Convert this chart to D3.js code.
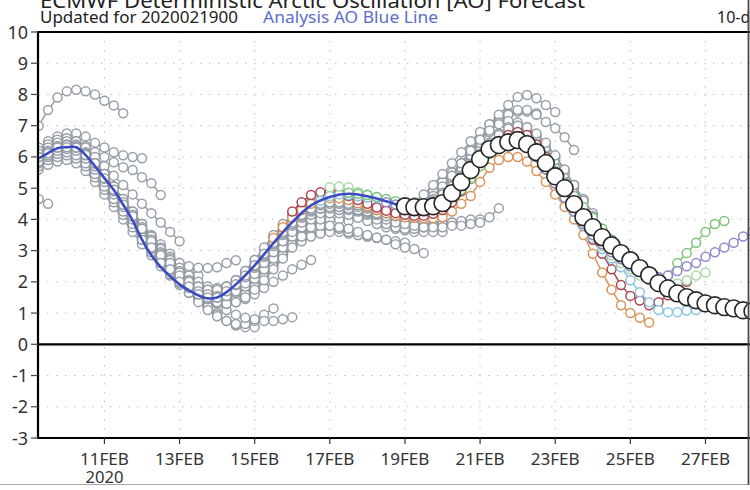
<!DOCTYPE html>
<html><head><meta charset="utf-8">
<script src="https://cdn.jsdelivr.net/npm/d3@7"></script>
<style>
body{margin:0;background:#fff;}
svg{display:block;font-family:"Noto Sans","Open Sans",sans-serif;}
</style>
</head><body>
<svg id="chart" width="750" height="490"></svg>
<script>
// ---------------- DATA ----------------
const titleText = "ECMWF Deterministic Arctic Oscillation [AO] Forecast";
const updatedText = "Updated for 2020021900";
const analysisText = "Analysis AO Blue Line";
const cornerText = "10-d";
const yTicks = [-3,-2,-1,0,1,2,3,4,5,6,7,8,9,10];
const xTickDays = [11,13,15,17,19,21,23,25,27];
const xTickLabels = ["11FEB","13FEB","15FEB","17FEB","19FEB","21FEB","23FEB","25FEB","27FEB"];
const yearLabel = "2020";
const STEP = 0.25; // 6-hourly values, in days

// analysis AO (blue line), day of Feb 2020 -> value
const analysisTimes = [9.25,9.5,9.75,10,10.25,10.5,10.75,11,11.25,11.5,11.75,12,12.25,12.5,12.75,13,13.25,13.5,13.75,14,14.25,14.5,15,15.5,16,16.5,17,17.5,18,18.5,19];
const analysisValues = [5.95,6.12,6.28,6.31,6.31,6.06,5.7,5.32,4.94,4.47,3.97,3.35,2.85,2.47,2.18,1.92,1.73,1.57,1.47,1.5,1.67,1.92,2.53,3.24,3.91,4.45,4.72,4.82,4.74,4.58,4.39];

// latest forecast (big white circles), starts 19 Feb 00Z
const latestStart = 19.0;
const latestValues = [4.42,4.39,4.39,4.42,4.52,4.84,5.19,5.58,5.93,6.25,6.38,6.47,6.54,6.41,6.15,5.8,5.38,5.0,4.49,4.07,3.75,3.43,3.17,2.92,2.69,2.44,2.21,1.96,1.79,1.63,1.51,1.41,1.31,1.25,1.19,1.15,1.09,1.06];

// older forecasts (grey), time of first visible value
const greyStarts = [9.25,9.25,9.25,9.25,9.25,9.25,9.25,9.25,9.25,9.25,9.25,9.25,9.25,9.25,9.25,9.25,9.25,9.5,10,10.5,11,11.5,12,12.5,13,13.5,14,14.5,15];
const greyValues = [
  [4.65,4.5],
  [7.0,7.5,7.9,8.1,8.15,8.1,8.0,7.8,7.65,7.4],
  [6.3,6.5,6.65,6.75,6.75,6.65,6.45,6.3,6.15,6.05,6.0,5.96],
  [6.1,6.3,6.45,6.55,6.5,6.35,6.15,6.0,5.83,5.67,5.58,5.35,5.16,4.78],
  [6.2,6.4,6.55,6.6,6.5,6.3,6.0,5.7,5.4,5.1,4.8,4.5,4.2,3.9,3.6,3.3],
  [5.8,6.0,6.15,6.2,6.15,5.95,5.65,5.3,4.95,4.55,4.2,3.85,3.5,3.2,2.9,2.6,2.4,2.2],
  [5.6,5.75,5.85,5.9,5.8,5.55,5.2,4.8,4.4,4.0,3.6,3.2,2.85,2.5,2.2,1.9,1.65,1.4,1.2,1.0],
  [6.0,6.2,6.35,6.4,6.3,6.05,5.7,5.3,4.9,4.5,4.1,3.7,3.35,3.05,2.8,2.6,2.5,2.45,2.44,2.47,2.6,2.69],
  [5.9,6.1,6.2,6.25,6.1,5.85,5.5,5.1,4.7,4.3,3.9,3.5,3.1,2.75,2.4,2.1,1.8,1.5,1.2,0.95,0.75,0.6,0.55,0.55],
  [5.7,5.9,6.0,6.05,5.95,5.7,5.35,4.95,4.55,4.15,3.75,3.35,2.95,2.6,2.25,1.95,1.65,1.35,1.1,0.9,0.75,0.65,0.65,0.75,0.95,1.15],
  [6.0,6.2,6.3,6.35,6.2,5.95,5.6,5.2,4.8,4.4,4.0,3.6,3.25,2.9,2.6,2.3,2.0,1.75,1.5,1.3,1.1,0.95,0.85,0.8,0.75,0.75,0.8,0.87],
  [5.8,6.0,6.1,6.15,6.05,5.8,5.45,5.05,4.65,4.25,3.85,3.45,3.05,2.7,2.35,2.05,1.8,1.6,1.45,1.35,1.3,1.35,1.45,1.6,1.8,2.0,2.2,2.4,2.55,2.7],
  [6.1,6.3,6.45,6.5,6.4,6.15,5.8,5.4,5.0,4.6,4.2,3.8,3.4,3.0,2.65,2.3,2.0,1.75,1.55,1.45,1.45,1.55,1.75,2.0,2.3,2.6,2.9,3.15,3.35,3.5,3.6,3.65],
  [5.95,6.15,6.3,6.35,6.3,6.05,5.7,5.3,4.9,4.5,4.1,3.7,3.3,2.95,2.6,2.3,2.05,1.85,1.7,1.65,1.7,1.85,2.05,2.3,2.6,2.9,3.2,3.45,3.7,3.85,3.95,4.0,4.0,3.95],
  [5.85,6.05,6.2,6.25,6.2,5.95,5.6,5.2,4.8,4.4,4.0,3.6,3.2,2.85,2.5,2.2,1.95,1.75,1.6,1.55,1.6,1.75,1.95,2.2,2.45,2.7,2.95,3.15,3.3,3.45,3.55,3.6,3.6,3.55,3.5,3.45],
  [6.0,6.2,6.35,6.4,6.35,6.1,5.75,5.35,4.95,4.55,4.15,3.75,3.35,3.0,2.65,2.35,2.1,1.9,1.75,1.7,1.75,1.9,2.1,2.35,2.65,2.95,3.25,3.55,3.8,4.0,4.15,4.25,4.3,4.3,4.25,4.2,4.15,4.1],
  [6.0,6.15,6.3,6.35,6.3,6.05,5.7,5.3,4.9,4.5,4.1,3.7,3.3,2.95,2.6,2.3,2.05,1.85,1.75,1.75,1.85,2.05,2.3,2.6,2.9,3.2,3.45,3.65,3.8,3.85,3.85,3.8,3.7,3.6,3.5,3.45,3.4,3.35,3.3,3.25],
  [6.12,6.3,6.38,6.3,6.1,5.8,5.45,5.05,4.65,4.25,3.85,3.45,3.1,2.75,2.45,2.2,2.0,1.85,1.8,1.85,2.0,2.2,2.45,2.75,3.05,3.3,3.5,3.65,3.75,3.8,3.8,3.75,3.7,3.6,3.5,3.42,3.35,3.2,3.1,3.05,2.92],
  [6.31,6.3,6.1,5.8,5.45,5.05,4.6,4.2,3.8,3.4,3.0,2.65,2.3,2.0,1.75,1.6,1.5,1.5,1.6,1.8,2.05,2.35,2.7,3.05,3.4,3.7,3.95,4.1,4.2,4.2,4.15,4.05,3.95,3.85,3.75,3.7,3.65,3.6,3.6,3.6,3.6],
  [6.06,5.8,5.45,5.05,4.65,4.25,3.85,3.45,3.05,2.7,2.35,2.05,1.8,1.6,1.45,1.4,1.45,1.6,1.85,2.15,2.5,2.85,3.2,3.5,3.8,4.05,4.25,4.35,4.4,4.35,4.3,4.2,4.1,4.0,3.95,3.9,3.85,3.85,3.85,3.9,3.9],
  [5.32,4.95,4.55,4.15,3.75,3.35,2.95,2.6,2.25,1.95,1.7,1.5,1.35,1.3,1.35,1.5,1.75,2.05,2.4,2.75,3.1,3.45,3.75,4.0,4.2,4.3,4.3,4.25,4.15,4.0,3.85,3.75,3.7,3.7,3.75,3.8,3.85,3.9,3.95,4.0,4.0],
  [4.47,4.1,3.7,3.3,2.9,2.55,2.25,2.0,1.8,1.65,1.55,1.55,1.65,1.85,2.1,2.4,2.75,3.1,3.45,3.75,4.0,4.2,4.35,4.4,4.4,4.35,4.25,4.15,4.0,3.9,3.85,3.8,3.75,3.75,3.75,3.8,3.8,3.85,3.9,4.07,4.36],
  [3.35,3.1,2.85,2.6,2.3,2.05,1.85,1.75,1.75,1.85,2.05,2.35,2.7,3.05,3.45,3.8,4.1,4.35,4.5,4.55,4.55,4.5,4.4,4.3,4.2,4.15,4.15,4.2,4.3,4.45,4.65,4.9,5.2,5.5,5.8,6.05,6.3,6.45,6.55,6.6,6.6],
  [2.6,2.4,2.2,2.0,1.85,1.75,1.75,1.85,2.05,2.35,2.7,3.1,3.5,3.85,4.15,4.4,4.55,4.6,4.6,4.55,4.45,4.35,4.25,4.2,4.2,4.25,4.35,4.55,4.8,5.1,5.45,5.8,6.15,6.5,6.8,7.05,7.25,7.4,7.45,7.45,7.4],
  [2.0,1.85,1.7,1.6,1.55,1.6,1.75,2.0,2.3,2.65,3.0,3.35,3.7,4.0,4.25,4.45,4.55,4.55,4.5,4.4,4.3,4.2,4.15,4.15,4.2,4.3,4.45,4.7,5.0,5.4,5.8,6.2,6.55,7.05,7.35,7.66,7.92,7.98,7.88,7.66,7.44],
  [1.6,1.5,1.5,1.55,1.7,1.95,2.25,2.6,2.95,3.3,3.6,3.9,4.15,4.35,4.45,4.5,4.45,4.35,4.25,4.15,4.1,4.1,4.15,4.25,4.4,4.6,4.9,5.25,5.65,6.05,6.45,6.8,7.1,7.35,7.5,7.5,7.35,7.12,6.92,6.63,6.22],
  [1.5,1.7,1.9,2.15,2.45,2.8,3.15,3.5,3.8,4.05,4.25,4.35,4.4,4.4,4.35,4.3,4.25,4.2,4.2,4.2,4.25,4.35,4.5,4.75,5.05,5.4,5.8,6.2,6.55,6.85,7.05,7.15,7.1,6.95,6.7,6.4,6.0,5.55,5.1,4.65,4.2],
  [1.92,2.2,2.5,2.85,3.2,3.55,3.85,4.1,4.3,4.45,4.5,4.5,4.45,4.4,4.35,4.3,4.3,4.3,4.35,4.4,4.5,4.65,4.85,5.1,5.4,5.75,6.1,6.45,6.75,6.95,7.0,6.9,6.65,6.3,5.9,5.45,5.0,4.55,4.1,3.7,3.35],
  [2.53,2.9,3.25,3.6,3.9,4.15,4.35,4.5,4.55,4.55,4.5,4.45,4.4,4.35,4.3,4.3,4.3,4.35,4.45,4.6,4.8,5.05,5.35,5.7,6.05,6.4,6.7,6.9,7.0,6.95,6.75,6.45,6.05,5.6,5.1,4.6,4.1,3.65,3.3,3.0,2.75]
];

// most recent forecasts (coloured)
const colourRunNames = ["15FEB12","16FEB00","16FEB18","17FEB00","17FEB12","18FEB12"];
const colourRunStarts = [15.5,16.0,16.75,17.0,17.5,18.5];
const colourRunValues = [
  [3.4,3.75,4.05,4.3,4.5,4.62,4.68,4.68,4.62,4.52,4.42,4.3,4.2,4.12,4.07,4.05,4.04,4.04,4.07,4.25,4.5,4.75,5.2,5.65,5.9,6.0,6.0,5.85,5.55,5.2,4.8,4.4,4.0,3.5,2.9,2.3,1.75,1.25,1.0,0.85,0.7],
  [4.25,4.55,4.78,4.87,4.9,4.85,4.75,4.62,4.5,4.38,4.28,4.2,4.15,4.12,4.12,4.18,4.3,4.55,4.9,5.3,5.75,6.15,6.45,6.7,6.8,6.7,6.4,6.0,5.5,4.95,4.4,3.85,3.35,2.9,2.4,1.9,1.55,1.4,1.25,1.35,1.57,1.8,2.0],
  [4.6,4.75,4.8,4.78,4.74,4.7,4.68,4.62,4.5,4.4,4.35,4.35,4.4,4.5,4.75,5.1,5.5,5.85,6.15,6.35,6.45,6.45,6.3,6.0,5.6,5.15,4.7,4.25,3.8,3.4,3.05,2.75,2.47,2.05,1.67,1.35,1.1,1.03,1.03,1.08,1.1],
  [5.03,5.05,5.03,4.87,4.8,4.72,4.62,4.52,4.45,4.42,4.42,4.48,4.6,4.85,5.2,5.6,6.0,6.3,6.5,6.55,6.5,6.3,6.0,5.6,5.15,4.7,4.25,3.85,3.5,3.15,2.85,2.6,2.4,2.2,2.05,1.95,1.9,1.95,2.05,2.2,2.3],
  [4.85,4.82,4.78,4.72,4.65,4.58,4.52,4.48,4.46,4.48,4.55,4.7,4.95,5.3,5.7,6.1,6.4,6.6,6.65,6.55,6.3,5.95,5.55,5.15,4.75,4.4,4.05,3.7,3.35,3.0,2.7,2.45,2.25,2.15,2.2,2.6,2.92,3.25,3.6,3.85,3.95],
  [4.55,4.48,4.42,4.4,4.4,4.42,4.5,4.75,5.1,5.5,5.85,6.15,6.35,6.45,6.45,6.3,6.0,5.6,5.15,4.7,4.25,3.85,3.5,3.2,2.95,2.72,2.5,2.32,2.2,2.15,2.2,2.35,2.5,2.6,2.8,2.95,3.1,3.25,3.45,3.6,3.75]
];

// ---------------- STYLE ----------------
const colourRunColours = ["#d98f52","#a63f4d","#86c2e2","#a9d8a4","#74c274","#8d84c8"];
const greyColour = "#939ba4";

// ---------------- DRAW ----------------
const svg = d3.select("#chart");
const x = d3.scaleLinear().domain([11, 27]).range([104.4, 705.5]);
const y = d3.scaleLinear().domain([-3, 10]).range([438, 32]);
const plotL = 38, plotR = 750, plotT = y(10), plotB = y(-3);

svg.append("defs").append("clipPath").attr("id","plotclip")
  .append("rect").attr("x", plotL).attr("y", plotT).attr("width", plotR - plotL).attr("height", plotB - plotT);

// grid
const grid = svg.append("g").attr("stroke","#bdbdbd").attr("stroke-width",1).attr("stroke-dasharray","1.5,7.5");
grid.selectAll("line.h").data(yTicks.filter(v => v !== 0 && v !== 10 && v !== -3)).join("line")
  .attr("x1", plotL).attr("x2", plotR).attr("y1", d => y(d)).attr("y2", d => y(d));
grid.selectAll("line.v").data(xTickDays).join("line")
  .attr("x1", d => x(d)).attr("x2", d => x(d)).attr("y1", plotT).attr("y2", plotB);

const plot = svg.append("g").attr("clip-path","url(#plotclip)");
const lineGen = d3.line().x(d => x(d.t)).y(d => y(d.v));

function toPoints(start, vals) { return vals.map((v, i) => ({t: start + i * STEP, v})); }

function drawRun(start, vals, colour, r, sw, opacity) {
  const pts = toPoints(start, vals);
  const g = plot.append("g").attr("opacity", opacity);
  g.append("path").datum(pts).attr("d", lineGen).attr("fill","none").attr("stroke", colour).attr("stroke-width", sw);
  g.selectAll("circle").data(pts).join("circle")
    .attr("cx", d => x(d.t)).attr("cy", d => y(d.v)).attr("r", r)
    .attr("fill","#fff").attr("stroke", colour).attr("stroke-width", sw);
}

greyValues.forEach((vals, i) => drawRun(greyStarts[i], vals, greyColour, 4.5, 1.5, 0.95));
colourRunValues.forEach((vals, i) => drawRun(colourRunStarts[i], vals, colourRunColours[i], 4.5, 1.5, 0.95));

// analysis line
const anaPts = analysisTimes.map((t, i) => ({t, v: analysisValues[i]}));
plot.append("path").datum(anaPts)
  .attr("d", d3.line().x(d => x(d.t)).y(d => y(d.v)).curve(d3.curveCatmullRom))
  .attr("fill","none").attr("stroke","#3b4cc0").attr("stroke-width",2.6).attr("stroke-linejoin","round");

// latest forecast
const latestPts = toPoints(latestStart, latestValues);
plot.append("path").datum(latestPts).attr("d", lineGen).attr("fill","none").attr("stroke","#222").attr("stroke-width",1.3);
plot.append("g").selectAll("circle").data(latestPts).join("circle")
  .attr("cx", d => x(d.t)).attr("cy", d => y(d.v)).attr("r", 8.4)
  .attr("fill","#fff").attr("stroke","#262626").attr("stroke-width",1.6);

// frame
const frame = svg.append("g").attr("stroke","#000").attr("stroke-width",2.2);
frame.append("line").attr("x1", plotL).attr("x2", plotL).attr("y1", plotT - 1).attr("y2", plotB + 1);
frame.append("line").attr("x1", plotL).attr("x2", plotR).attr("y1", plotT).attr("y2", plotT);
frame.append("line").attr("x1", plotL).attr("x2", plotR).attr("y1", plotB).attr("y2", plotB);
frame.append("line").attr("x1", plotL).attr("x2", plotR).attr("y1", y(0)).attr("y2", y(0));

// y axis ticks and labels
const yAx = svg.append("g");
yAx.selectAll("line").data(yTicks).join("line")
  .attr("x1", plotL - 7).attr("x2", plotL).attr("y1", d => y(d)).attr("y2", d => y(d))
  .attr("stroke","#444").attr("stroke-width",1.2);
yAx.selectAll("text").data(yTicks).join("text")
  .attr("x", plotL - 10).attr("y", d => y(d) + 6.5).attr("text-anchor","end")
  .attr("font-size", 18).attr("fill","#333").text(d => d);

// x axis ticks and labels
const xAx = svg.append("g");
xAx.selectAll("line").data(xTickDays).join("line")
  .attr("x1", d => x(d)).attr("x2", d => x(d)).attr("y1", plotB).attr("y2", plotB + 6)
  .attr("stroke","#333").attr("stroke-width",1.2);
xAx.selectAll("text").data(xTickDays).join("text")
  .attr("x", d => x(d)).attr("y", 465).attr("text-anchor","middle")
  .attr("font-size", 16.5).attr("fill","#333")
  .attr("textLength", 49).attr("lengthAdjust","spacingAndGlyphs")
  .text((d, i) => xTickLabels[i]);
svg.append("text").attr("x", x(xTickDays[0])).attr("y", 483).attr("text-anchor","middle")
  .attr("font-size", 16).attr("fill","#333").attr("textLength", 38).attr("lengthAdjust","spacingAndGlyphs")
  .text(yearLabel);

// titles (the title is cut by the top edge, as in the original screenshot)
svg.append("text").attr("x", 40).attr("y", 8).attr("font-size", 20).attr("fill","#222")
  .attr("textLength", 545).attr("lengthAdjust","spacingAndGlyphs").text(titleText);
svg.append("text").attr("x", 40).attr("y", 23).attr("font-size", 16).attr("fill","#222")
  .attr("textLength", 198).attr("lengthAdjust","spacingAndGlyphs").text(updatedText);
svg.append("text").attr("x", 263).attr("y", 23).attr("font-size", 16).attr("fill","#5b6ec9")
  .attr("textLength", 175).attr("lengthAdjust","spacingAndGlyphs").text(analysisText);
svg.append("text").attr("x", 717).attr("y", 23).attr("font-size", 16).attr("fill","#222").text(cornerText);

// screenshot border
svg.append("line").attr("x1", 0).attr("x2", 748).attr("y1", 484.5).attr("y2", 484.5).attr("stroke","#a8a8a8").attr("stroke-width",1.2);
svg.append("line").attr("x1", 748.5).attr("x2", 748.5).attr("y1", 0).attr("y2", 485).attr("stroke","#4a4a4a").attr("stroke-width",1.8);
</script>
</body></html>
